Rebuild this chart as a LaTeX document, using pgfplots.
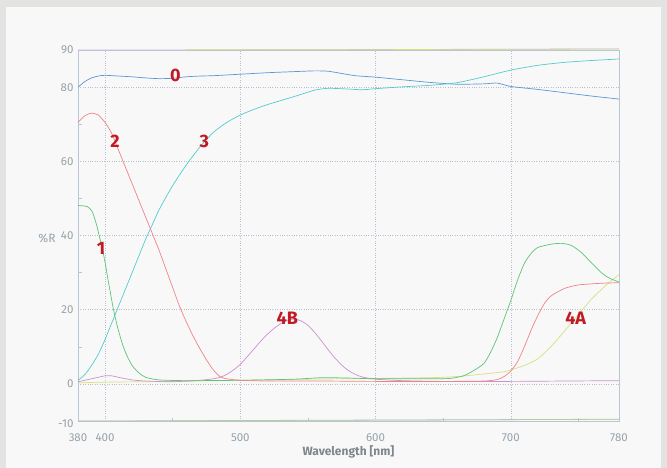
\documentclass[border=0pt]{standalone}
\usepackage{pgfplots}
\pgfplotsset{compat=1.18}
\usepackage{fontspec}
\setmainfont{Fira Sans}
\definecolor{bgout}{RGB}{227,227,225}
\definecolor{panel}{RGB}{248,248,248}
\definecolor{tickgray}{RGB}{150,162,170}
\definecolor{labgray}{RGB}{125,135,140}
\definecolor{axisline}{RGB}{185,198,212}
\definecolor{gridc}{RGB}{185,190,208}
\definecolor{cblue}{RGB}{92,150,212}
\definecolor{ccyan}{RGB}{85,202,205}
\definecolor{cred}{RGB}{240,130,135}
\definecolor{cgreen}{RGB}{95,195,120}
\definecolor{cpurple}{RGB}{205,145,205}
\definecolor{cyellow}{RGB}{215,225,125}
\definecolor{clav}{RGB}{195,185,225}
\definecolor{darkred}{RGB}{192,26,36}
\begin{document}
\begin{tikzpicture}
\fill[bgout] (0pt,0pt) rectangle (667pt,468pt);
\fill[panel] (6pt,0pt) rectangle (661pt,461pt);
\begin{axis}[
  at={(78pt,84pt)}, anchor=origin,
  scale only axis, width=541pt, height=371pt,
  xmin=380, xmax=780, ymin=-10, ymax=90,
  clip=false,
  axis line style={axisline, line width=0.6pt},
  xtick={380,400,500,600,700,780},
  minor xtick={450,550,650,750},
  ytick={0,20,40,60,80,90},
  minor ytick={10,30,50,70},
  extra y ticks={-10},
  extra y tick style={grid=none, yticklabel style={yshift=-3pt}},
  tick align=inside,
  tick pos=left,
  major tick length=0pt,
  minor tick length=3.5pt,
  every minor tick/.style={axisline, line width=0.5pt},
  grid=major,
  major grid style={gridc, dotted, line width=0.6pt},
  /pgf/number format/assume math mode=true,
  ticklabel style={font=\fontsize{11.5}{12}\selectfont, text=tickgray},
  xticklabel style={yshift=-9pt},
  yticklabel style={xshift=-1pt},
  xlabel={\bfseries Wavelength [nm]},
  xlabel style={font=\fontsize{12}{14}\selectfont, text=labgray, yshift=3pt},
  every axis plot/.append style={line width=0.7pt, smooth, tension=0.4},
]
% top and bottom faint lines
\addplot[clav, line width=0.8pt] coordinates {(380,90)(500,90.05)(780,90.3)};
\addplot[cyellow, line width=0.6pt] coordinates {(460,90.1)(620,90.15)(780,90.35)};
\addplot[clav, line width=0.8pt] coordinates {(380,-10)(500,-9.85)(780,-9.5)};
\addplot[cyellow!70!cgreen, line width=0.5pt] coordinates {(380,-9.95)(520,-9.85)(780,-9.55)};
% curve 0
\addplot[cblue] coordinates {
(380,80)(385,81.5)(390,82.5)(395,83)(400,83.2)(410,83)(420,82.8)(430,82.5)(440,82.3)(450,82.4)(460,82.8)(470,83)(480,83.1)(500,83.5)(520,83.9)(540,84.2)(555,84.4)(565,84.3)(575,83.7)(585,83.1)(600,82.7)(620,82)(640,81.3)(660,80.8)(680,80.9)(690,81.1)(700,80.2)(720,79.4)(740,78.5)(760,77.6)(780,76.8)};
% curve 3
\addplot[ccyan] coordinates {
(380,1)(385,2.5)(390,5)(395,8)(400,12)(405,16.5)(410,21)(415,25.5)(420,30)(425,34.5)(430,39)(435,43)(440,47)(450,53.5)(460,59)(470,63.8)(480,67.8)(490,70.5)(500,72.5)(510,74)(520,75.3)(540,77.5)(555,79.2)(565,79.7)(580,79.5)(590,79.3)(600,79.6)(620,80.1)(640,80.5)(660,81.2)(680,82.8)(700,84.6)(720,85.9)(740,86.7)(760,87.2)(780,87.6)};
% yellow
\addplot[cyellow] coordinates {
(380,0.3)(400,0.5)(450,0.7)(500,1.0)(550,1.3)(600,1.5)(640,1.7)(660,2.0)(680,2.7)(695,3.3)(700,3.8)(710,5)(720,6.8)(730,10.2)(740,14.4)(750,18.8)(760,23)(770,26.5)(780,29.5)};
% purple 4B
\addplot[cpurple] coordinates {
(380,0.6)(390,1.4)(400,2.2)(405,2.2)(410,1.8)(420,1.1)(430,0.8)(450,0.6)(470,1.0)(480,1.4)(485,1.8)(490,2.6)(495,3.8)(500,5.3)(505,7.3)(510,9.4)(515,11.5)(520,13.4)(525,15)(530,16.3)(535,17.2)(540,17.5)(545,17)(550,15.8)(555,13.9)(560,11.6)(565,9.2)(570,7)(575,5.1)(580,3.6)(585,2.6)(590,1.9)(600,1.3)(620,0.9)(650,0.7)(700,0.7)(740,0.8)(780,0.9)};
% green 1
\addplot[cgreen] coordinates {
(380,48.1)(384,48)(387,47.8)(390,46.8)(392,45)(394,42.5)(396,39.5)(398,36.5)(400,32.8)(402,28.5)(404,24.5)(406,20.5)(408,17.2)(410,14.3)(413,10.6)(416,7.8)(420,5)(425,3)(430,1.8)(440,1.1)(460,0.9)(500,1.0)(540,1.3)(560,1.7)(580,1.6)(600,1.4)(640,1.4)(655,1.5)(665,2.2)(672,3.5)(680,5.5)(685,8.5)(690,12.5)(695,17.5)(700,22.5)(705,28)(710,32.5)(715,35.2)(720,36.8)(730,37.7)(738,37.9)(745,37.3)(752,35.5)(760,32.5)(767,30)(773,28.5)(780,27.5)};
% red 2 / 4A
\addplot[cred] coordinates {
(380,70.5)(385,72.3)(390,73)(395,72.5)(400,70.5)(405,67.5)(410,63)(415,58.5)(420,54)(425,49.5)(430,45)(435,40.5)(440,36)(445,31)(450,26)(455,21)(460,16.8)(465,13)(470,9.6)(475,6.5)(480,3.8)(485,2)(490,1.4)(500,1.0)(520,0.8)(560,0.8)(600,0.7)(650,0.7)(680,0.8)(690,1.2)(695,2)(700,3.5)(705,6)(710,10)(715,14.5)(720,18.5)(725,21.8)(730,23.8)(740,25.8)(750,26.7)(760,27)(770,27.2)(780,27.3)};
% labels
\begin{scope}[every node/.style={font=\fontsize{18}{20}\selectfont\bfseries, text=darkred}]
\node at (axis cs:452,83.2) {0};
\node at (axis cs:407.4,65.4) {2};
\node at (axis cs:473.3,65.4) {3};
\node at (axis cs:397,36.5) {1};
\node at (axis cs:534.8,17.8) {4B};
\node at (axis cs:748,17.8) {4A};
\end{scope}
\node[font=\fontsize{12}{13}\selectfont, text=tickgray] at (axis cs:380,39.3) [xshift=-31pt] {\%R};
\end{axis}
\end{tikzpicture}
\end{document}
